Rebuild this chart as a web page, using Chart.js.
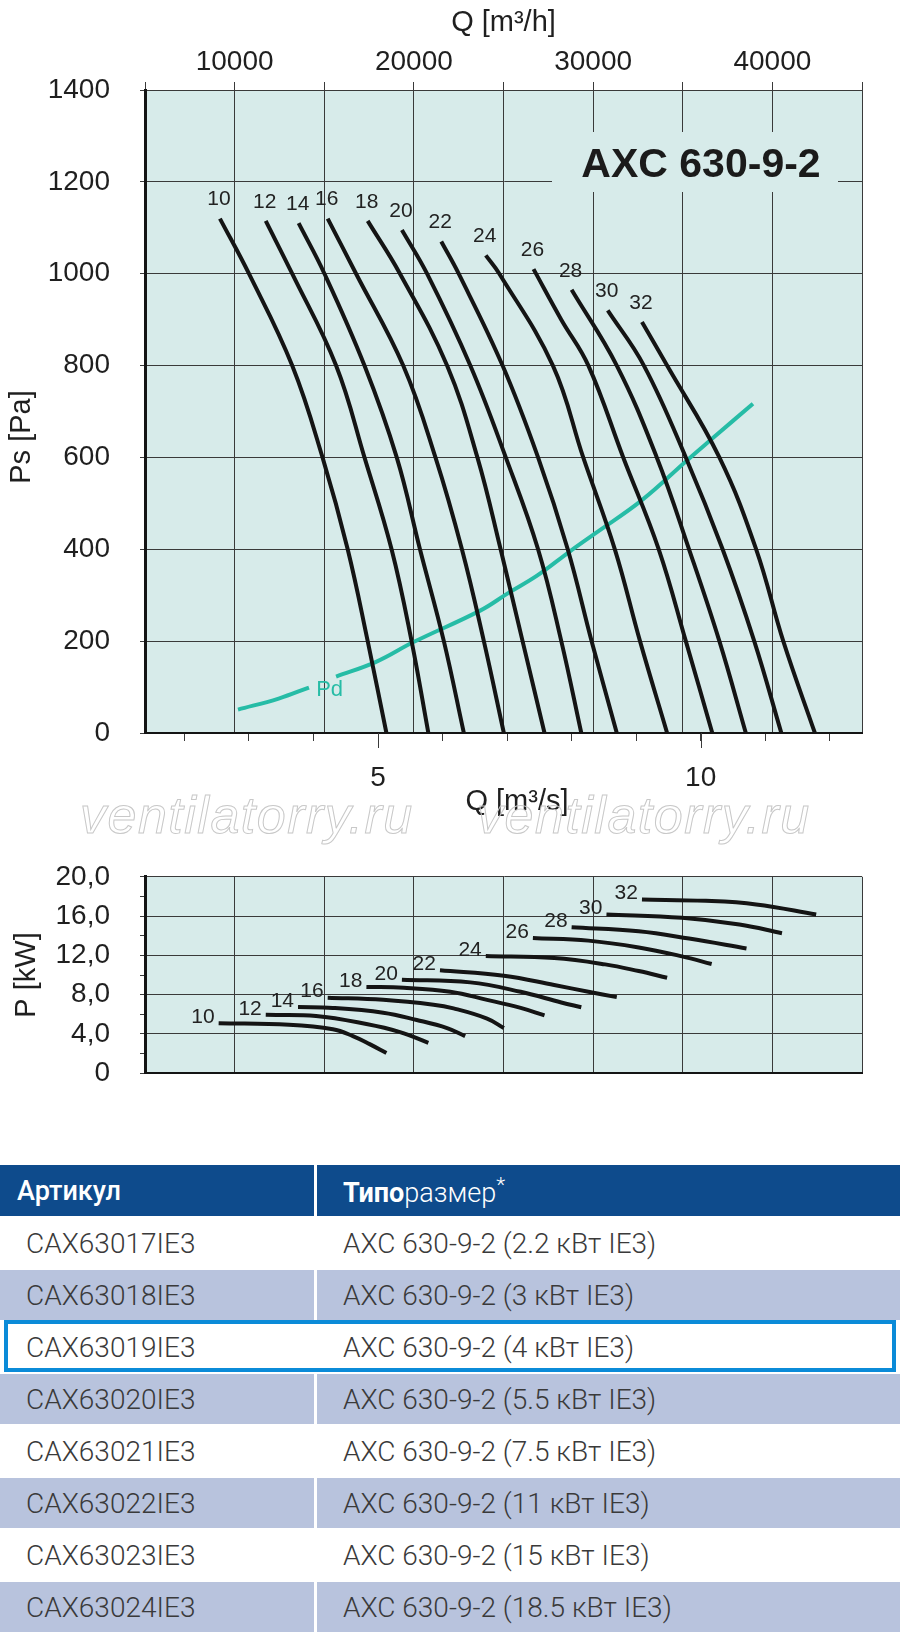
<!DOCTYPE html>
<html lang="ru">
<head>
<meta charset="utf-8">
<title>AXC 630-9-2</title>
<script src="https://cdn.jsdelivr.net/npm/chart.js@4.4.1/dist/chart.umd.min.js"></script>
<style>
  html, body { margin: 0; padding: 0; background: #fff; }
  body { width: 900px; height: 1633px; position: relative; overflow: hidden; }
  #psChart { position: absolute; left: 0; top: 0; }
  #kwChart { position: absolute; left: 0; top: 830px; }
  .watermark {
    position: absolute; top: 789px; z-index: 2;
    font: italic 52px "Liberation Sans", Arial, sans-serif; line-height: 52px;
    letter-spacing: 1.5px; white-space: nowrap;
    color: transparent; -webkit-text-stroke: 1px #c8c8c8;
  }
  #models {
    position: absolute; left: 0; top: 1165px; width: 900px;
    border-collapse: separate; border-spacing: 0; table-layout: fixed;
    font-family: Roboto, "Open Sans", sans-serif;
  }
  #models th {
    box-sizing: border-box; height: 51px; padding: 0 0 0 17px;
    background: #0e4b8c; color: #fff; text-align: left;
    font-size: 27px; font-weight: 500;
  }
  #models th + th { padding-left: 26px; border-left: 3px solid #fff; }
  #models th b { font-weight: 700; }
  #models th .thin { font-weight: 300; }
  #models th sup { font-weight: 300; font-size: 21px; }
  #models td {
    box-sizing: border-box; height: 52px; padding: 0 0 0 26px;
    border-top: 2px solid #fff; color: #3a3a3a;
    font-size: 28px; font-weight: 300; white-space: nowrap;
  }
  #models td + td { padding-left: 26px; border-left: 3px solid #fff; }
  #models tbody tr:nth-child(even) td { background: #b8c3dd; }
  #current {
    position: absolute; left: 4px; top: 1320px; width: 892px; height: 52px;
    box-sizing: border-box; border: 4px solid #0b8bd8;
  }
</style>
</head>
<body>
<canvas id="psChart" width="900" height="830"></canvas>
<canvas id="kwChart" width="900" height="290"></canvas>
<div class="watermark" style="left:80px">ventilatorry.ru</div>
<div class="watermark" style="left:477px">ventilatorry.ru</div>

<table id="models">
  <colgroup><col style="width:314px"><col></colgroup>
  <thead>
    <tr><th>Артикул</th><th><b>Типо</b><span class="thin">размер</span><sup>*</sup></th></tr>
  </thead>
  <tbody></tbody>
</table>
<div id="current"></div>

<script>
// blade angles, one curve each
const bladeAngles = [10, 12, 14, 16, 18, 20, 22, 24, 26, 28, 30, 32];

// static pressure curves, Q [m³/s] / Ps [Pa]
const psFlow = [
  [2.55, 3.00, 3.67, 4.14, 4.53, 4.84, 5.13],
  [3.26, 3.67, 4.35, 4.79, 5.21, 5.52, 5.78],
  [3.77, 4.17, 4.79, 5.29, 5.65, 6.02, 6.33],
  [4.22, 4.66, 5.39, 5.89, 6.30, 6.64, 6.95],
  [4.84, 5.34, 6.07, 6.54, 6.90, 7.24, 7.58],
  [5.37, 5.76, 6.43, 6.98, 7.48, 7.84, 8.15],
  [5.98, 6.25, 6.93, 7.48, 7.94, 8.31, 8.70],
  [6.67, 6.88, 7.71, 8.18, 8.67, 9.06, 9.48],
  [7.41, 7.84, 8.26, 8.80, 9.35, 9.77, 10.18],
  [8.00, 8.70, 9.32, 9.82, 10.29, 10.70],
  [8.56, 9.12, 9.77, 10.34, 10.83, 11.25],
  [9.09, 9.48, 10.29, 10.86, 11.28, 11.77]
];
const psPressure = [
  [1120, 1000, 800, 600, 400, 200, 0],
  [1115, 1000, 800, 600, 400, 200, 0],
  [1110, 1000, 800, 600, 400, 200, 0],
  [1120, 1000, 800, 600, 400, 200, 0],
  [1115, 1000, 800, 600, 400, 200, 0],
  [1095, 1000, 800, 600, 400, 200, 0],
  [1070, 1000, 800, 600, 400, 200, 0],
  [1040, 1000, 800, 600, 400, 200, 0],
  [1010, 900, 800, 600, 400, 200, 0],
  [965, 800, 600, 400, 200, 0],
  [920, 800, 600, 400, 200, 0],
  [895, 800, 600, 400, 200, 0]
];

// dynamic pressure line (null = gap behind the "Pd" caption)
const pdFlow = [2.83, 3.46, 3.93, 4.15, 4.35, 4.97, 5.55, 6.59, 7.01, 7.47, 7.97, 8.36, 9.09, 9.80, 10.18, 10.81];
const pdPressure = [51, 75, 99, null, 123, 155, 198, 267, 304, 343, 395, 434, 507, 595, 641, 717];

// shaft power curves, Q [m³/s] / P [kW]
const kwFlow = [
  [2.53, 3.62, 4.30, 4.61, 4.87, 5.13],
  [3.26, 4.04, 4.82, 5.34, 5.78],
  [3.76, 4.30, 5.08, 5.60, 6.07, 6.35],
  [4.22, 5.08, 5.86, 6.17, 6.69, 6.95],
  [4.82, 5.40, 6.12, 6.69, 7.21, 7.58],
  [5.37, 6.43, 7.21, 7.84, 8.15],
  [5.96, 6.95, 7.73, 8.26, 8.70],
  [6.67, 7.73, 8.52, 9.04, 9.48],
  [7.40, 8.26, 9.04, 9.71, 10.17],
  [8.00, 9.04, 9.82, 10.71],
  [8.54, 9.71, 10.60, 11.26],
  [9.09, 10.08, 10.86, 11.79]
];
const kwPower = [
  [5.09, 4.93, 4.47, 3.78, 2.96, 2.05],
  [5.94, 5.83, 5.01, 4.19, 3.10],
  [6.73, 6.65, 6.16, 5.42, 4.60, 3.78],
  [7.69, 7.47, 6.98, 6.60, 5.56, 4.60],
  [8.79, 8.70, 8.29, 7.47, 6.65, 5.89],
  [9.52, 9.25, 8.29, 7.20, 6.71],
  [10.48, 9.93, 8.98, 8.29, 7.75],
  [11.94, 11.72, 11.08, 10.40, 9.72],
  [13.77, 13.50, 12.81, 11.90, 11.12],
  [14.86, 14.45, 13.71, 12.70],
  [16.17, 15.82, 15.14, 14.26],
  [17.68, 17.55, 17.19, 16.17]
];

// axis labels
const flowHourLabels = [10000, 20000, 30000, 40000];
const flowSecLabels = [5, 10];

// table rows
const articles = ['CAX63017IE3', 'CAX63018IE3', 'CAX63019IE3', 'CAX63020IE3',
                  'CAX63021IE3', 'CAX63022IE3', 'CAX63023IE3', 'CAX63024IE3'];
const motorKw = ['2.2', '3', '4', '5.5', '7.5', '11', '15', '18.5'];

const PLOT_BG = '#d7ebea';
const GRID = '#3a3a3a';
const INK = '#1f1f1f';
const CURVE = '#141414';
const PD_COLOR = '#26bca6';
const FONT = '"Liberation Sans", Arial, sans-serif';
const TICK_FONT = { size: 28 };
const TITLE_FONT = { size: 29 };

Chart.defaults.font.family = FONT;
Chart.defaults.color = INK;

// fill the plot area
const plotBackground = {
  id: 'plotBackground',
  beforeDraw(chart) {
    const { ctx, chartArea: a } = chart;
    ctx.save();
    ctx.fillStyle = PLOT_BG;
    ctx.fillRect(a.left, a.top, a.right - a.left, a.bottom - a.top);
    ctx.restore();
  }
};

// angle number at the start of every curve
const curveLabels = {
  id: 'curveLabels',
  afterDatasetsDraw(chart, args, opts) {
    const { ctx } = chart;
    ctx.save();
    ctx.font = '21px ' + FONT;
    ctx.fillStyle = '#222';
    ctx.textAlign = opts.align;
    ctx.textBaseline = 'middle';
    chart.data.datasets.forEach((ds, i) => {
      if (!ds.angle) return;
      const p = chart.getDatasetMeta(i).data[0];
      ctx.fillText(String(ds.angle), p.x + opts.dx, p.y + opts.dy);
    });
    ctx.restore();
  }
};

// model name on a plain patch over the grid
const modelTitle = {
  id: 'modelTitle',
  beforeDatasetsDraw(chart) {
    const { ctx, chartArea: a } = chart;
    ctx.save();
    ctx.fillStyle = PLOT_BG;
    ctx.fillRect(a.left + 407, a.top + 42, 286, 60);
    ctx.font = 'bold 41px ' + FONT;
    ctx.fillStyle = '#1b1b1b';
    ctx.textAlign = 'center';
    ctx.textBaseline = 'alphabetic';
    ctx.fillText('AXC 630-9-2', a.left + 556, a.top + 87);
    ctx.restore();
  }
};

const pdCaption = {
  id: 'pdCaption',
  afterDatasetsDraw(chart) {
    const { ctx, scales } = chart;
    ctx.save();
    ctx.font = '22px ' + FONT;
    ctx.fillStyle = PD_COLOR;
    ctx.textAlign = 'center';
    ctx.textBaseline = 'middle';
    ctx.fillText('Pd', scales.x.getPixelForValue(4.25), scales.y.getPixelForValue(93));
    ctx.restore();
  }
};

// longer ticks under the labelled m³/s values, and the off-centre axis captions
const lowerAxisExtras = {
  id: 'lowerAxisExtras',
  afterDraw(chart) {
    const { ctx, chartArea: a, scales } = chart;
    ctx.save();
    ctx.strokeStyle = GRID;
    ctx.lineWidth = 1;
    flowSecLabels.forEach((v) => {
      const x = Math.round(scales.x.getPixelForValue(v)) + 0.5;
      ctx.beginPath();
      ctx.moveTo(x, a.bottom);
      ctx.lineTo(x, a.bottom + 15);
      ctx.stroke();
    });
    ctx.font = TITLE_FONT.size + 'px ' + FONT;
    ctx.fillStyle = INK;
    ctx.textAlign = 'center';
    ctx.textBaseline = 'middle';
    ctx.fillText('Q [m³/s]', a.left + 372, a.bottom + 69);
    ctx.translate(22, a.top + 347);
    ctx.rotate(-Math.PI / 2);
    ctx.fillText('Ps [Pa]', 0, 0);
    ctx.restore();
  }
};

function curveDataset(angle, flow, values) {
  return {
    label: angle + '°',
    angle: angle,
    data: flow.map((q, j) => ({ x: q, y: values[j] })),
    borderColor: CURVE,
    borderWidth: 4,
    pointRadius: 0,
    tension: 0.4
  };
}

const psDatasets = bladeAngles.map((a, i) => curveDataset(a, psFlow[i], psPressure[i]));
psDatasets.push({
  label: 'Pd',
  data: pdFlow.map((q, j) => ({ x: q, y: pdPressure[j] })),
  borderColor: PD_COLOR,
  borderWidth: 4,
  pointRadius: 0,
  tension: 0.4
});

const kwDatasets = bladeAngles.map((a, i) => curveDataset(a, kwFlow[i], kwPower[i]));

const qMin = 5000 / 3600, qMax = 45000 / 3600;

new Chart(document.getElementById('psChart'), {
  type: 'line',
  data: { datasets: psDatasets },
  plugins: [plotBackground, modelTitle, curveLabels, pdCaption, lowerAxisExtras],
  options: {
    responsive: false,
    animation: false,
    events: [],
    layout: { padding: { left: 0, right: 38, top: 0, bottom: 0 } },
    plugins: {
      legend: { display: false },
      tooltip: { enabled: false },
      curveLabels: { align: 'center', dx: -1, dy: -19 }
    },
    scales: {
      x: {
        type: 'linear', position: 'bottom', min: qMin, max: qMax,
        afterFit: (s) => { s.height = 97; },
        border: { color: CURVE, width: 2 },
        grid: { drawOnChartArea: false, tickLength: 8, tickColor: GRID },
        ticks: {
          stepSize: 1, includeBounds: false, autoSkip: false, maxRotation: 0,
          padding: 20, font: TICK_FONT, color: INK,
          callback: (v) => flowSecLabels.includes(v) ? String(v) : ''
        }
      },
      xTop: {
        type: 'linear', position: 'top', min: 5000, max: 45000,
        afterFit: (s) => { s.height = 90; },
        border: { color: GRID, width: 1 },
        grid: { color: GRID, lineWidth: 1, tickLength: 8 },
        ticks: {
          stepSize: 5000, autoSkip: false, maxRotation: 0, padding: 3,
          font: TICK_FONT, color: INK,
          callback: (v) => flowHourLabels.includes(v) ? String(v) : ''
        },
        title: { display: true, text: 'Q [m³/h]', font: TITLE_FONT, color: INK, padding: { top: 6, bottom: 0 } }
      },
      y: {
        type: 'linear', min: 0, max: 1400,
        afterFit: (s) => { s.width = 145; },
        border: { color: CURVE, width: 3 },
        grid: { color: GRID, lineWidth: 1, tickLength: 5 },
        ticks: { stepSize: 200, padding: 30, font: TICK_FONT, color: INK, callback: (v) => String(v) }
      }
    }
  }
});

new Chart(document.getElementById('kwChart'), {
  type: 'line',
  data: { datasets: kwDatasets },
  plugins: [plotBackground, curveLabels],
  options: {
    responsive: false,
    animation: false,
    events: [],
    layout: { padding: { left: 0, right: 38, top: 24, bottom: 22 } },
    plugins: {
      legend: { display: false },
      tooltip: { enabled: false },
      curveLabels: { align: 'right', dx: -4, dy: -6 }
    },
    scales: {
      x: { type: 'linear', display: false, min: qMin, max: qMax },
      xGrid: {
        type: 'linear', position: 'bottom', min: 5000, max: 45000,
        afterFit: (s) => { s.height = 0; },
        border: { color: CURVE, width: 2 },
        grid: { color: GRID, lineWidth: 1, drawTicks: false },
        ticks: { stepSize: 5000, display: false }
      },
      y: {
        type: 'linear', min: 0, max: 20,
        afterFit: (s) => { s.width = 145; },
        border: { color: CURVE, width: 3 },
        grid: {
          color: (c) => (c.tick && c.tick.value % 4 === 0) ? GRID : 'rgba(0,0,0,0)',
          tickColor: GRID, lineWidth: 1, tickLength: 5
        },
        ticks: {
          stepSize: 2, autoSkip: false, padding: 30, font: TICK_FONT, color: INK,
          callback: (v) => v % 4 ? '' : (v === 0 ? '0' : v.toFixed(1).replace('.', ','))
        },
        title: { display: true, text: 'P [kW]', font: TITLE_FONT, color: INK, padding: { top: 10, bottom: 0 } }
      }
    }
  }
});

// table of models
const tbody = document.querySelector('#models tbody');
articles.forEach((code, i) => {
  const tr = document.createElement('tr');
  tr.innerHTML = '<td>' + code + '</td><td>AXC 630-9-2 (' + motorKw[i] + ' кВт IE3)</td>';
  tbody.appendChild(tr);
});
</script>
</body>
</html>
